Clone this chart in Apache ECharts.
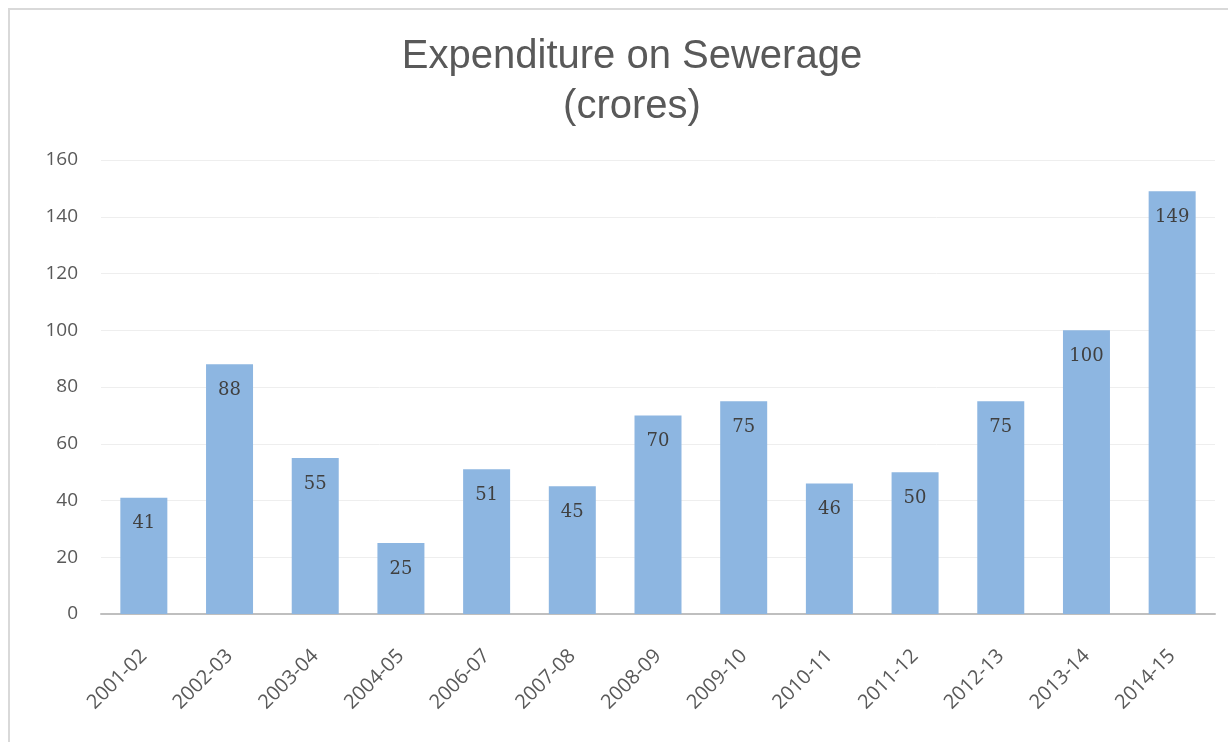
<!DOCTYPE html>
<html lang="en">
<head>
<meta charset="UTF-8" />
<title>Expenditure on Sewerage</title>
<style>
  html, body { margin: 0; padding: 0; background: #fff; }
  #main { width: 1228px; height: 742px; }
</style>
</head>
<body>
<div id="main"></div>
<script src="https://cdn.jsdelivr.net/npm/echarts@6/dist/echarts.min.js"></script>
<script>
// chart data
var years = ['2001-02', '2002-03', '2003-04', '2004-05', '2006-07', '2007-08',
  '2008-09', '2009-10', '2010-11', '2011-12', '2012-13', '2013-14', '2014-15'];
var spend = [41, 88, 55, 25, 51, 45, 70, 75, 46, 50, 75, 100, 149];
var yTicks = [0, 20, 40, 60, 80, 100, 120, 140, 160];

var myChart = echarts.init(document.getElementById('main'));

var option = {
  backgroundColor: '#ffffff',
  animation: false,
  title: {
    text: 'Expenditure on Sewerage\n(crores)',
    left: 627,
    top: 27,
    textAlign: 'center',
    textStyle: {
      fontFamily: 'Liberation Sans',
      fontWeight: 'normal',
      fontSize: 40,
      lineHeight: 50,
      color: '#595959'
    }
  },
  // the page frame around the chart
  graphic: [{
    type: 'polyline',
    shape: { points: [[9, 742], [9, 9], [1228, 9]] },
    style: { stroke: '#d9d9d9', lineWidth: 2, fill: null }
  }],
  grid: { left: 101, right: 13, top: 160, bottom: 128 },
  xAxis: {
    type: 'category',
    data: years,
    axisTick: { show: false },
    axisLine: { lineStyle: { color: '#bfbfbf', width: 2 } },
    axisLabel: {
      rotate: 45,
      margin: 39,
      fontFamily: 'Open Sans',
      fontSize: 20,
      color: '#595959',
      interval: 0
    }
  },
  yAxis: {
    type: 'value',
    min: yTicks[0],
    max: yTicks[yTicks.length - 1],
    interval: 20,
    axisLine: { show: false },
    axisTick: { show: false },
    splitLine: { lineStyle: { color: '#eeeeee', width: 1 } },
    axisLabel: {
      margin: 23,
      fontFamily: 'Open Sans',
      fontSize: 19,
      color: '#595959'
    }
  },
  series: [{
    type: 'bar',
    data: spend,
    barWidth: 47,
    itemStyle: { color: '#8db6e1' },
    label: {
      show: true,
      position: 'insideTop',
      distance: 17,
      fontFamily: 'DejaVu Serif',
      fontSize: 18,
      color: '#404040'
    }
  }]
};

myChart.setOption(option);
</script>
</body>
</html>
